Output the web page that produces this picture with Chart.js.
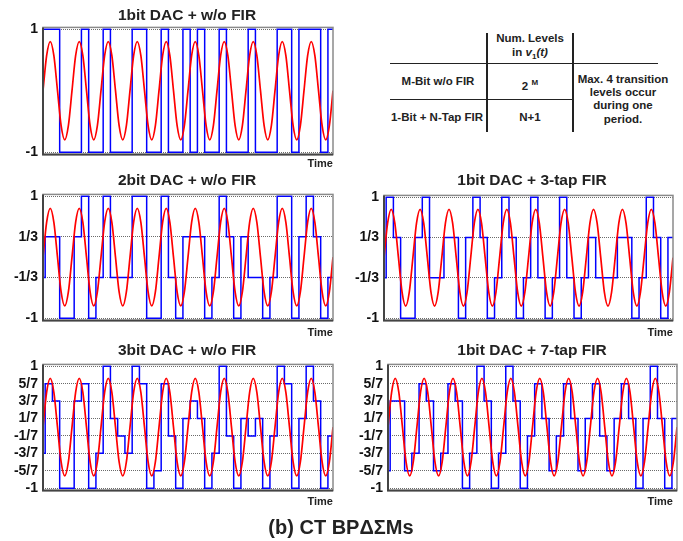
<!DOCTYPE html>
<html>
<head>
<meta charset="utf-8">
<script src="https://cdn.jsdelivr.net/npm/chart.js@4.4.1/dist/chart.umd.min.js"></script>
<style>
  body { margin: 0; background: #fff; }
  #page { position: relative; width: 683px; height: 541px; overflow: hidden; font-family: 'Liberation Sans', Arial, sans-serif; font-weight: bold; color: #222; }
  canvas { position: absolute; }
  .ttl { position: absolute; width: 300px; text-align: center; font-size: 15.5px; line-height: 16px; }
  .time { position: absolute; width: 60px; text-align: right; font-size: 11px; line-height: 12px; }
  .tx { position: absolute; text-align: center; font-size: 11.5px; line-height: 13px; white-space: nowrap; }
  .ln { position: absolute; background: #222; }
</style>
</head>
<body>
<div id="page">
  <canvas id="c1" width="336" height="154" style="left:1px;top:14px"></canvas>
  <canvas id="c2" width="336" height="153" style="left:1px;top:181px"></canvas>
  <canvas id="c3" width="335" height="152" style="left:342px;top:182px"></canvas>
  <canvas id="c4" width="336" height="153" style="left:1px;top:351px"></canvas>
  <canvas id="c5" width="335" height="153" style="left:346px;top:351px"></canvas>

  <div class="ttl" style="left:37px;top:7px">1bit DAC + w/o FIR</div>
  <div class="ttl" style="left:37px;top:172px">2bit DAC + w/o FIR</div>
  <div class="ttl" style="left:382px;top:172px">1bit DAC + 3-tap FIR</div>
  <div class="ttl" style="left:37px;top:342px">3bit DAC + w/o FIR</div>
  <div class="ttl" style="left:382px;top:342px">1bit DAC + 7-tap FIR</div>

  <div class="time" style="left:273px;top:157px">Time</div>
  <div class="time" style="left:273px;top:326px">Time</div>
  <div class="time" style="left:613px;top:326px">Time</div>
  <div class="time" style="left:273px;top:495px">Time</div>
  <div class="time" style="left:613px;top:495px">Time</div>

  <!-- table -->
  <div class="ln" style="left:390px;top:62.5px;width:268px;height:1.5px"></div>
  <div class="ln" style="left:390px;top:98.5px;width:183px;height:1.5px"></div>
  <div class="ln" style="left:486px;top:33px;width:1.5px;height:99px"></div>
  <div class="ln" style="left:572px;top:33px;width:1.5px;height:99px"></div>
  <div class="tx" style="left:480px;width:100px;top:32px">Num. Levels</div>
  <div class="tx" style="left:480px;width:100px;top:46px">in <i>v</i><sub style="font-size:8px">1</sub><i>(t)</i></div>
  <div class="tx" style="left:388px;width:100px;top:75px">M-Bit w/o FIR</div>
  <div class="tx" style="left:480px;width:100px;top:76px">2 <sup style="font-size:8px">M</sup></div>
  <div class="tx" style="left:386px;width:102px;top:111px">1-Bit + N-Tap FIR</div>
  <div class="tx" style="left:480px;width:100px;top:111px">N+1</div>
  <div class="tx" style="left:573px;width:100px;top:73px;line-height:13.2px">Max. 4 transition<br>levels occur<br>during one<br>period.</div>

  <div class="ttl" style="left:191px;width:300px;top:517px;font-size:20px;line-height:20px">(b) CT BPΔΣMs</div>
</div>

<script>
'use strict';

// reference sine, read every 1/8 period (one period = 4 DAC samples)
const sineRef = [
  0, 0.57, 0.8, 0.57, 0, -0.57, -0.8, -0.57,
  0, 0.57, 0.8, 0.57, 0, -0.57, -0.8, -0.57,
  0, 0.57, 0.8, 0.57, 0, -0.57, -0.8, -0.57,
  0, 0.57, 0.8, 0.57, 0, -0.57, -0.8, -0.57,
  0, 0.57, 0.8, 0.57, 0, -0.57, -0.8, -0.57,
  0, 0.57, 0.8, 0.57, 0, -0.57, -0.8, -0.57,
  0, 0.57, 0.8, 0.57, 0, -0.57, -0.8, -0.57,
  0, 0.57, 0.8, 0.57, 0, -0.57, -0.8, -0.57,
  0, 0.57, 0.8, 0.57, 0, -0.57, -0.8, -0.57,
  0, 0.57, 0.8, 0.57, 0, -0.57, -0.8, -0.57,
  0
];

// DAC output level held in each sample slot
const dac1bit = [1, 1, 1, -1, -1, -1, 1, -1, -1, 1, -1, -1, -1, 1, 1, -1, -1, 1, -1, -1,
  1, -1, 1, -1, -1, 1, -1, -1, -1, 1, -1, -1, -1, 1, 1, -1, 1, 1, 1, -1, 1];
const dac2bit = [-1/3, 1/3, 1/3, -1, -1, 1/3, 1, -1, -1/3, 1, -1/3, -1/3, -1/3, 1, 1, -1, -1, 1, -1/3, -1,
  1/3, 1/3, 1/3, -1, -1/3, 1, 1/3, -1, 1/3, -1/3, -1/3, -1, -1/3, 1, 1, -1, 1/3, 1, 1/3, -1, -1/3];
const fir3tap = [-1/3, 1, 1/3, -1, -1, 1/3, 1, -1/3, -1/3, 1/3, 1/3, -1, 1/3, 1, 1/3, -1, -1/3, 1, 1/3, -1,
  -1/3, 1, -1/3, -1, -1/3, 1, -1/3, -1, -1/3, 1/3, -1/3, -1/3, -1/3, 1/3, 1/3, -1, -1/3, 1, 1/3, -1, 1/3];
const dac3bit = [-3/7, 5/7, 3/7, -1, -1, 3/7, 5/7, -1, -3/7, 1, 1/7, -1/7, -3/7, 1, 5/7, -1, -5/7, 5/7, -1/7, -1,
  1/7, 3/7, 1/7, -1, -3/7, 1, -1/7, -1, 1/7, -1/7, 1/7, -1, -1/7, 1, 5/7, -1, 1/7, 1, 3/7, -1, -1/7];
const fir7tap = [-5/7, 3/7, 3/7, -5/7, -3/7, 5/7, 3/7, -5/7, -3/7, 5/7, 3/7, -1, -3/7, 1, 3/7, -1, -3/7, 1, 3/7, -1,
  -1/7, 5/7, 1/7, -5/7, -1/7, 5/7, 1/7, -5/7, 1/7, 5/7, -1/7, -5/7, 1/7, 5/7, 1/7, -1, 1/7, 1, 1/7, -1, 1/7];

// y tick levels and their labels
const ticks2 = [-1, 1];
const labels2 = ['-1', '1'];
const ticks4 = [-1, -1/3, 1/3, 1];
const labels4 = ['-1', '-1/3', '1/3', '1'];
const ticks8 = [-1, -5/7, -3/7, -1/7, 1/7, 3/7, 5/7, 1];
const labels8 = ['-1', '-5/7', '-3/7', '-1/7', '1/7', '3/7', '5/7', '1'];

const nSamples = 40;
const stepOffset = 0.3;

Chart.defaults.font.family = "'Liberation Sans', Arial, sans-serif";

const framePlugin = {
  id: 'frame',
  afterDraw(chart) {
    const a = chart.chartArea;
    const ctx = chart.ctx;
    ctx.save();
    ctx.strokeStyle = '#8a8a8a';
    ctx.lineWidth = 1.5;
    ctx.strokeRect(a.left, a.top, a.right - a.left, a.bottom - a.top);
    ctx.strokeStyle = '#444';
    ctx.lineWidth = 2;
    ctx.beginPath();
    ctx.moveTo(a.left, a.top);
    ctx.lineTo(a.left, a.bottom);
    ctx.lineTo(a.right, a.bottom);
    ctx.stroke();
    ctx.restore();
  }
};

function sinePoints() {
  return sineRef.map((v, k) => ({ x: k * nSamples / (sineRef.length - 1), y: v }));
}

function stepPoints(levels) {
  let pts = [{ x: 0, y: levels[0] }];
  for (let j = 1; j < levels.length; j++) {
    pts.push({ x: j - 1 + stepOffset, y: levels[j] });
  }
  pts.push({ x: nSamples, y: levels[levels.length - 1] });
  return pts;
}

function makePanel(id, levels, tickVals, tickText) {
  new Chart(document.getElementById(id), {
    type: 'line',
    data: {
      datasets: [{
        data: sinePoints(),
        borderColor: '#ff0000',
        borderWidth: 1.7,
        pointRadius: 0,
        cubicInterpolationMode: 'monotone'
      }, {
        data: stepPoints(levels),
        borderColor: '#0000ff',
        borderWidth: 1.5,
        pointRadius: 0,
        stepped: true
      }]
    },
    options: {
      responsive: false,
      animation: false,
      events: [],
      layout: { padding: { top: 12, bottom: 12, left: 0, right: 4 } },
      plugins: { legend: { display: false }, tooltip: { enabled: false } },
      scales: {
        x: { type: 'linear', min: 0, max: nSamples, display: false },
        y: {
          min: -1.04,
          max: 1.03,
          afterBuildTicks: (s) => { s.ticks = tickVals.map(v => ({ value: v })); },
          afterFit: (s) => { s.width = 42; },
          ticks: {
            autoSkip: false,
            callback: (v, i) => tickText[i],
            font: { size: 14, weight: 'bold' },
            color: '#111',
            padding: 5
          },
          grid: { color: '#6a6a6a', lineWidth: 1, drawTicks: false },
          border: { display: false, dash: [1, 1] }
        }
      }
    },
    plugins: [framePlugin]
  });
}

makePanel('c1', dac1bit, ticks2, labels2);
makePanel('c2', dac2bit, ticks4, labels4);
makePanel('c3', fir3tap, ticks4, labels4);
makePanel('c4', dac3bit, ticks8, labels8);
makePanel('c5', fir7tap, ticks8, labels8);
</script>
</body>
</html>
